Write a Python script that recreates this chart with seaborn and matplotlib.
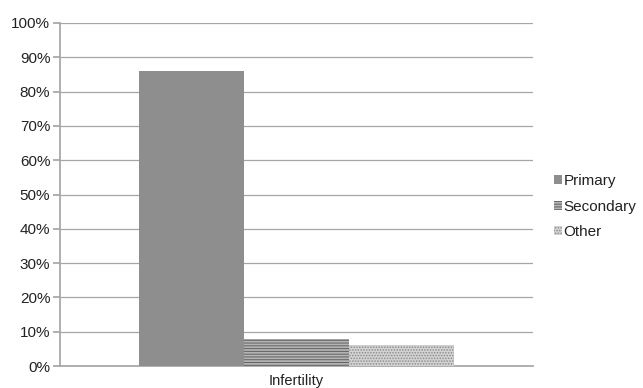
import matplotlib
matplotlib.use("Agg")
import matplotlib.pyplot as plt
import seaborn as sns
import pandas as pd
from matplotlib.patches import Patch
from matplotlib.ticker import PercentFormatter

categories = ["Infertility"]
series = ["Primary", "Secondary", "Other"]
values = [86, 8, 6]

df = pd.DataFrame({"cat": categories * len(series), "type": series, "val": values})

sns.set_theme(style="white")
plt.rcParams['font.family'] = ['Liberation Sans', 'DejaVu Sans']
plt.rcParams['hatch.linewidth'] = 0.7

fig = plt.figure(figsize=(6.43, 3.88), dpi=100)
ax = fig.add_axes([60/643, 22/388, 473/643, 343/388])

colors = ["#8e8e8e", "#b4b4b4", "#d2d2d2"]
hatches = [None, "------", "......"]
hcolors = [None, "#606060", "#8a8a8a"]

sns.barplot(data=df, x="cat", y="val", hue="type", palette=colors, ax=ax,
            width=0.667, saturation=1, legend=False, zorder=3)

for patch, h, hc in zip(ax.patches, hatches, hcolors):
    patch.set_edgecolor("none")
    if h:
        patch.set_hatch(h)
        patch.set_edgecolor(hc)
        patch.set_linewidth(0)

ax.set_ylim(0, 100)
ax.set_yticks(range(0, 101, 10))
ax.yaxis.set_major_formatter(PercentFormatter(decimals=0))
ax.grid(axis="y", color="#a6a6a6", linewidth=0.9, zorder=0)
ax.set_axisbelow(True)
for s in ["top", "right"]:
    ax.spines[s].set_visible(False)
ax.spines["left"].set_color("#a6a6a6")
ax.spines["bottom"].set_color("#a6a6a6")
ax.tick_params(axis="y", which="major", left=True, length=5, color="#a6a6a6",
               labelsize=11, labelcolor="#222222", pad=2)
ax.tick_params(axis="x", bottom=False, labelsize=10.5, labelcolor="#222222", pad=0)
ax.set_xlabel("")
ax.set_ylabel("")

handles = [Patch(facecolor=colors[i], hatch=hatches[i], edgecolor=hcolors[i] or colors[i], linewidth=0)
           for i in range(3)]
leg = fig.legend(handles, series, loc="upper left", bbox_to_anchor=(548/643, 1 - 168/388),
                 frameon=False, fontsize=11, handlelength=0.5, handleheight=0.5,
                 handletextpad=0.1, labelspacing=0.75, borderaxespad=0)
for t in leg.get_texts():
    t.set_color("#222222")

fig.savefig("out.png", dpi=100)
